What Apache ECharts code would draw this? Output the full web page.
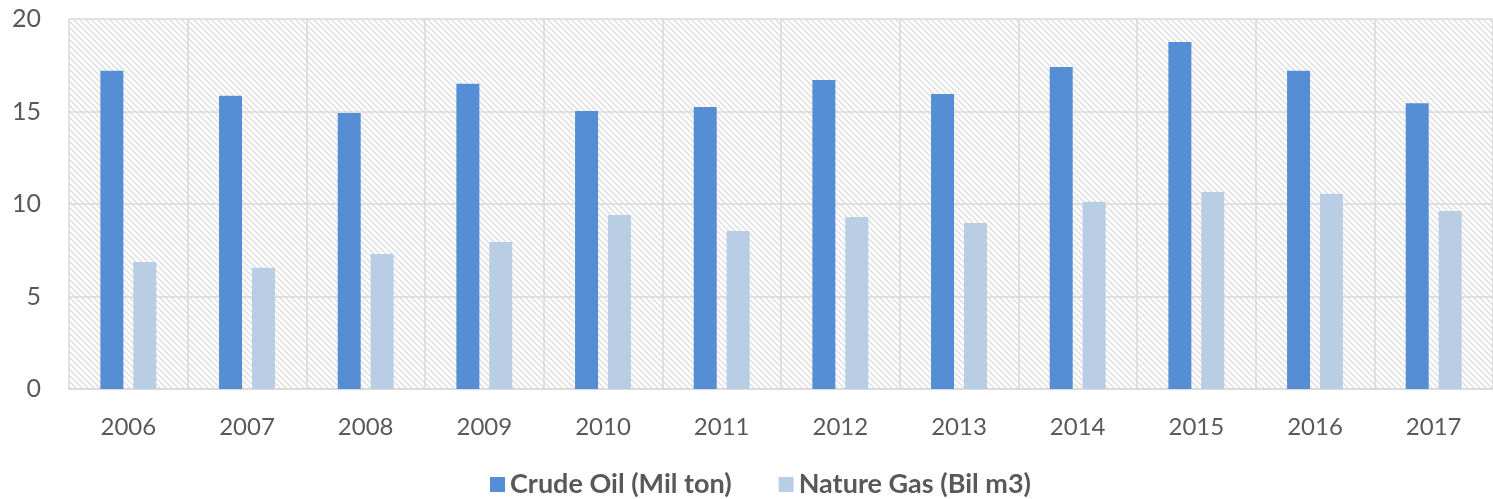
<!DOCTYPE html>
<html><head><meta charset="utf-8">
<script src="https://cdn.jsdelivr.net/npm/echarts@6/dist/echarts.min.js"></script>
<style>html,body{margin:0;padding:0;background:#fff}#c{width:1493px;height:499px}</style>
</head><body><div id="c"></div>
<script>
const categories = ['2006','2007','2008','2009','2010','2011','2012','2013','2014','2015','2016','2017'];
const crudeOil = [17.2, 15.85, 14.92, 16.5, 15.03, 15.24, 16.7, 15.95, 17.4, 18.76, 17.2, 15.45];
const natureGas = [6.86, 6.55, 7.3, 7.95, 9.41, 8.54, 9.3, 8.97, 10.12, 10.65, 10.55, 9.62];
const yTicks = [0, 5, 10, 15, 20];

const pc = document.createElement('canvas');
pc.width = 6; pc.height = 6;
const g = pc.getContext('2d');
g.fillStyle = '#ffffff'; g.fillRect(0,0,6,6);
g.strokeStyle = '#dcdcdc'; g.lineWidth = 1.3;
g.beginPath();
g.moveTo(-1,-1); g.lineTo(7,7);
g.moveTo(-4,2); g.lineTo(4,10);
g.moveTo(2,-4); g.lineTo(10,4);
g.stroke();

const chart = echarts.init(document.getElementById('c'));
const font = 'Lato, "Open Sans", sans-serif';
chart.setOption({
  animation: false,
  grid: { left: 69, top: 19, width: 1430, height: 370, show: true, borderWidth: 0,
          backgroundColor: { image: pc, repeat: 'repeat' } },
  legend: {
    top: 471, left: 490, padding: 0, itemWidth: 15, itemHeight: 15, itemGap: 47,
    icon: 'rect',
    textStyle: { fontFamily: font, fontSize: 27, fontWeight: 'bold', color: '#595959' },
    data: ['Crude Oil (Mil ton)', 'Nature Gas (Bil m3)']
  },
  xAxis: {
    type: 'category', data: categories,
    axisLine: { lineStyle: { color: '#d9d9d9', width: 1.5 } },
    axisTick: { show: false },
    splitLine: { show: true, interval: 0, lineStyle: { color: '#d9d9d9', width: 1.5 } },
    axisLabel: { margin: 26, fontFamily: font, fontSize: 24, color: '#595959' }
  },
  yAxis: {
    type: 'value', min: yTicks[0], max: yTicks[yTicks.length-1], interval: 5,
    axisLine: { show: false }, axisTick: { show: false },
    splitLine: { lineStyle: { color: '#d9d9d9', width: 1.5 } },
    axisLabel: { margin: 28, fontFamily: font, fontSize: 25, color: '#595959' }
  },
  series: [
    { name: 'Crude Oil (Mil ton)', type: 'bar', data: crudeOil, barWidth: 23, barGap: '43%',
      itemStyle: { color: '#558ed5' } },
    { name: 'Nature Gas (Bil m3)', type: 'bar', data: natureGas, barWidth: 23,
      itemStyle: { color: '#b9cde5' } }
  ]
});
</script></body></html>
